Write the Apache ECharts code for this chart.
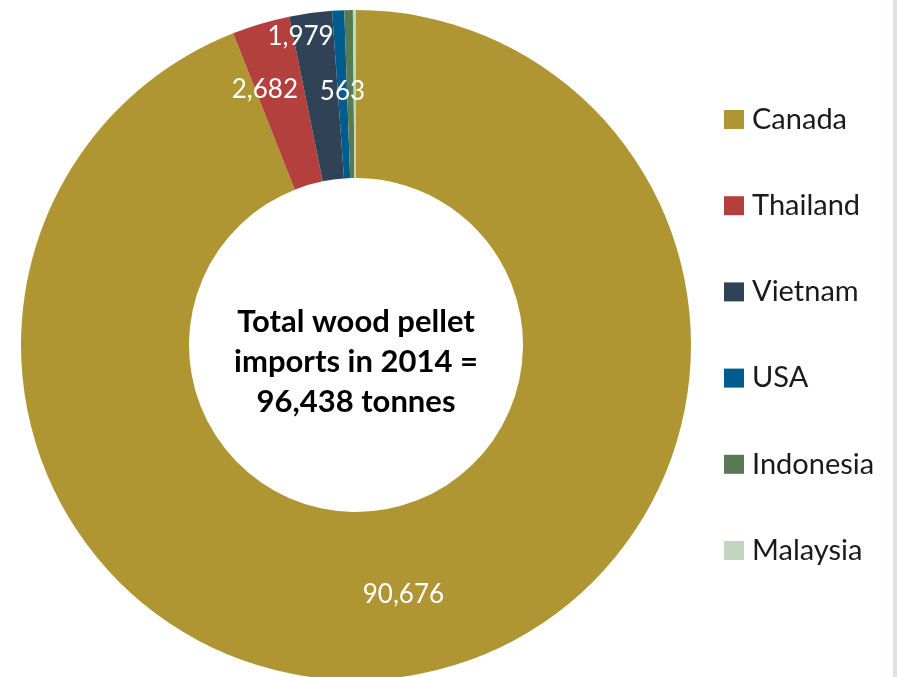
<!DOCTYPE html>
<html>
<head>
<meta charset="utf-8">
<script src="https://cdn.jsdelivr.net/npm/echarts@6/dist/echarts.min.js"></script>
<style>html,body{margin:0;padding:0;background:#fff}#c{width:897px;height:677px}</style>
</head>
<body>
<div id="c"></div>
<script>
const countries = ["Canada", "Thailand", "Vietnam", "USA", "Indonesia", "Malaysia"];
const tonnes = [90676, 2682, 1979, 563, 395, 143];
const colors = ["#B09533", "#B4403E", "#2F4256", "#005C8D", "#587A52", "#C3D5C1"];
const centerLines = ["Total wood pellet", "imports in 2014 =", "96,438 tonnes"];
const shownLabels = [true, true, true, true, false, false];
// manual label nudges (as in the original)
const labelShift = [[0, 0], [-19, -12], [-21, -57], [0, 0], [0, 0], [0, 0]];

const FONT = "Lato, 'Open Sans', sans-serif";
const chart = echarts.init(document.getElementById('c'), null, {renderer: 'canvas'});
const data = countries.map((n, i) => ({
  name: n,
  value: tonnes[i],
  itemStyle: {color: colors[i]},
  label: {show: shownLabels[i]}
}));

chart.setOption({
  animation: false,
  backgroundColor: '#ffffff',
  legend: {
    orient: 'vertical',
    left: 719,
    top: 100,
    padding: 5,
    itemWidth: 20,
    itemHeight: 19,
    itemGap: 57.2,
    icon: 'rect',
    data: countries,
    selectedMode: false,
    textStyle: {fontFamily: FONT, fontSize: 29, color: '#1a1a1a', padding: [0, 0, 0, 3], lineHeight: 27}
  },
  graphic: [
    {type: 'rect', shape: {x: 893, y: 0, width: 4, height: 677}, style: {fill: '#dde3e3'}, silent: true},
    {type: 'text', x: 356, y: 362, z: 10,
      style: {text: centerLines.join('\n'), font: "bold 31px " + FONT, fill: '#000', align: 'center', verticalAlign: 'middle', lineHeight: 40}}
  ],
  series: [{
    type: 'pie',
    center: [356, 345],
    radius: [167, 335],
    startAngle: 90,
    clockwise: true,
    avoidLabelOverlap: false,
    label: {position: 'inside', color: '#fff', fontFamily: FONT, fontSize: 26,
      formatter: p => p.value.toLocaleString('en-US')},
    labelLine: {show: false},
    labelLayout: p => ({dx: labelShift[p.dataIndex][0], dy: labelShift[p.dataIndex][1]}),
    emphasis: {disabled: true},
    itemStyle: {borderWidth: 0},
    data: data
  }]
});
</script>
</body>
</html>
